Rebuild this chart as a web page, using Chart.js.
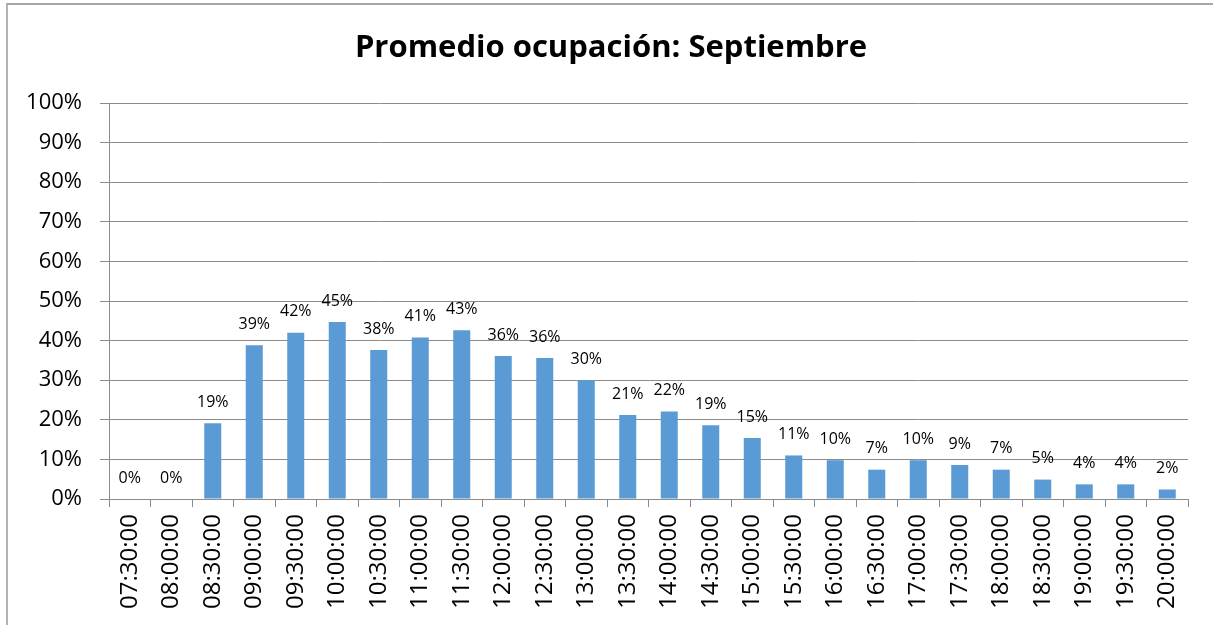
<!DOCTYPE html>
<html>
<head>
<meta charset="utf-8">
<script src="https://cdn.jsdelivr.net/npm/chart.js@4"></script>
<style>
  html, body { margin: 0; padding: 0; background: #fff; overflow: hidden; }
  #wrap { position: relative; width: 1213px; height: 625px; }
  #frame { position: absolute; left: 6px; top: 3px; width: 1400px; height: 800px;
           border-left: 2px solid #b3b3b3; border-top: 2px solid #a6a6a6; box-sizing: border-box; }
  canvas { position: absolute; left: 0; top: 0; }
</style>
</head>
<body>
<div id="wrap">
  <div id="frame"></div>
  <canvas id="chart" width="1213" height="625"></canvas>
</div>
<script>
// Chart data (percent of occupation per half hour)
const chartTitle = 'Promedio ocupación: Septiembre';
const timeSlots = ['07:30:00', '08:00:00', '08:30:00', '09:00:00', '09:30:00', '10:00:00', '10:30:00',
    '11:00:00', '11:30:00', '12:00:00', '12:30:00', '13:00:00', '13:30:00', '14:00:00', '14:30:00',
    '15:00:00', '15:30:00', '16:00:00', '16:30:00', '17:00:00', '17:30:00', '18:00:00', '18:30:00',
    '19:00:00', '19:30:00', '20:00:00'];
const occupancy = [0, 0, 19.1, 38.8, 42.0, 44.7, 37.6, 40.8, 42.6, 36.1, 35.6, 30.0, 21.2, 22.1, 18.6,
    15.4, 11.0, 9.8, 7.4, 9.8, 8.6, 7.4, 4.9, 3.7, 3.7, 2.4];
const yMax = 100;
const yStep = 10;

const gridColor = '#8c8c8c';
const fontFamily = "'Open Sans', 'Noto Sans', sans-serif";

// draws the chart title centered above the plot
const titlePlugin = {
    id: 'titleText',
    afterDraw(chart) {
        const ctx = chart.ctx;
        ctx.save();
        ctx.font = `bold 31px ${fontFamily}`;
        ctx.fillStyle = '#000';
        ctx.textAlign = 'center';
        ctx.textBaseline = 'middle';
        ctx.fillText(chartTitle, 611, 48);
        ctx.restore();
    }
};

// value labels above each bar
const valueLabels = {
    id: 'valueLabels',
    afterDatasetsDraw(chart) {
        const ctx = chart.ctx;
        const meta = chart.getDatasetMeta(0);
        ctx.save();
        ctx.font = `16px ${fontFamily}`;
        ctx.fillStyle = '#000';
        ctx.textAlign = 'center';
        ctx.textBaseline = 'middle';
        meta.data.forEach((bar, i) => {
            ctx.fillText(Math.round(occupancy[i]) + '%', bar.x, bar.y - 21);
        });
        ctx.restore();
    }
};

new Chart(document.getElementById('chart'), {
    type: 'bar',
    data: {
        labels: timeSlots,
        datasets: [{
            data: occupancy,
            backgroundColor: '#5b9bd5',
            borderWidth: 0,
            barPercentage: 0.41,
            categoryPercentage: 1.0
        }]
    },
    options: {
        responsive: false,
        animation: false,
        devicePixelRatio: 1,
        layout: { padding: { top: 103, right: 25, bottom: 0, left: 0 } },
        plugins: { legend: { display: false }, tooltip: { enabled: false }, title: { display: false } },
        scales: {
            x: {
                grid: { display: true, drawOnChartArea: false, drawTicks: true, tickLength: 8, color: gridColor, offset: true },
                border: { display: true, color: gridColor },
                ticks: { autoSkip: false, maxRotation: 90, minRotation: 90, padding: 7, color: '#000',
                         font: { family: fontFamily, size: 24 } },
                afterFit(scale) { scale.height = 126; }
            },
            y: {
                min: 0,
                max: yMax,
                ticks: { stepSize: yStep, padding: 18, color: '#000', font: { family: fontFamily, size: 22 },
                         callback: v => v + '%' },
                grid: { color: gridColor, tickLength: 9, lineWidth: 1 },
                border: { display: true, color: gridColor },
                afterFit(scale) { scale.width = 109; }
            }
        }
    },
    plugins: [titlePlugin, valueLabels]
});
</script>
</body>
</html>
